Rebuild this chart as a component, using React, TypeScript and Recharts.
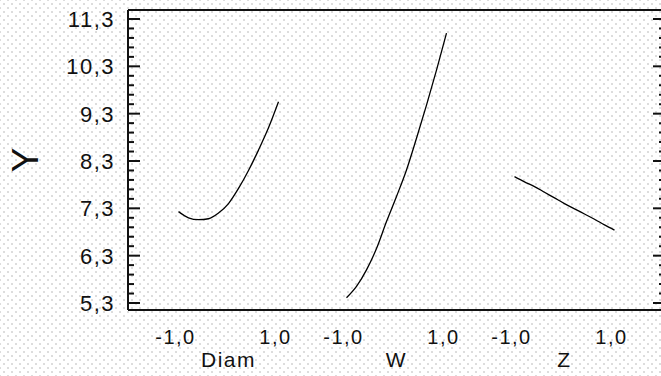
import React from 'react';
import { LineChart, Line, XAxis, YAxis, ReferenceLine } from 'recharts';

// factor names and where each panel sits on the shared x scale
const factors = ['Diam', 'W', 'Z'];
const panelCenters = [0, 3.36, 6.72];

// coded levels
const levels = [-1, -0.8, -0.6, -0.4, -0.2, 0, 0.2, 0.4, 0.6, 0.8, 1];
const diamY = [7.23, 7.1, 7.06, 7.08, 7.2, 7.4, 7.72, 8.1, 8.53, 9.0, 9.55];
const wY = [5.41, 5.65, 6.0, 6.45, 7.02, 7.55, 8.11, 8.78, 9.48, 10.22, 11.0];
const zY = [7.97, 7.86, 7.76, 7.64, 7.52, 7.4, 7.29, 7.18, 7.07, 6.95, 6.84];

const yMajor = [5.3, 6.3, 7.3, 8.3, 9.3, 10.3, 11.3];
const levelLabels = ['-1,0', '1,0'];

const X_DOMAIN = [-2.01, 8.73];
const Y_DOMAIN = [5.152, 11.49];

const FONT = '"Liberation Sans", Arial, sans-serif';
const INK = '#111';

const series = [diamY, wY, zY].map((vals, p) =>
  levels.map((l, i) => ({ x: panelCenters[p] + l, y: vals[i] }))
);

const xTicks = panelCenters.flatMap((c) => [c - 1, c, c + 1]);

// 4 minor ticks between each pair of majors
const yMinor: number[] = [];
yMajor.forEach((m, i) => {
  if (i < yMajor.length - 1) {
    for (let k = 1; k < 5; k++) yMinor.push(Math.round((m + k * 0.2) * 10) / 10);
  }
});
const yTicks = [...yMajor, ...yMinor];
const isMajor = (v: number) => yMajor.some((m) => Math.abs(m - v) < 1e-6);
// tick mark length in x units (about 12px / 6px)
const tickLen = (v: number) => (isMajor(v) ? 0.24 : 0.12);

const LeftTick = (props: any) => {
  const x = Number(props.x);
  const y = Number(props.y);
  const v = Number(props.payload.value);
  return (
    <text x={x - 13} y={y} dy="0.36em" textAnchor="end" fontSize={22} letterSpacing={1.5} fill={INK} fontFamily={FONT}>
      {v.toFixed(1).replace('.', ',')}
    </text>
  );
};

const BottomTick = (props: any) => {
  const x = Number(props.x);
  const y = Number(props.y);
  const v = Number(props.payload.value);
  const p = panelCenters.findIndex((c) => Math.abs(c - v) < 1e-6);
  if (p >= 0) {
    return (
      <text x={x} y={y + 57} textAnchor="middle" fontSize={21} letterSpacing={1.5} fill={INK} fontFamily={FONT}>
        {factors[p]}
      </text>
    );
  }
  const owner = panelCenters.reduce((best, c) => (Math.abs(c - v) < Math.abs(best - v) ? c : best), panelCenters[0]);
  return (
    <text x={x - 3} y={y + 34} textAnchor="middle" fontSize={20} letterSpacing={1.5} fill={INK} fontFamily={FONT}>
      {v < owner ? levelLabels[0] : levelLabels[1]}
    </text>
  );
};

export default function App() {
  return (
    <div
      style={{
        position: 'absolute',
        left: 0,
        top: 0,
        width: 661,
        height: 376,
        overflow: 'hidden',
        backgroundColor: '#fff',
        backgroundImage:
          'radial-gradient(#dcdcdc 0.7px, transparent 1px), radial-gradient(#dcdcdc 0.7px, transparent 1px)',
        backgroundSize: '8px 8px',
        backgroundPosition: '0 0, 4px 4px',
      }}
    >
      <LineChart width={665} height={376} margin={{ top: 10, right: 0, bottom: 0, left: 0 }}>
        <XAxis
          type="number"
          dataKey="x"
          domain={X_DOMAIN}
          allowDataOverflow
          ticks={xTicks}
          interval={0}
          tickSize={0}
          tickMargin={0}
          tickLine={false}
          height={66}
          axisLine={{ stroke: INK, strokeWidth: 2 }}
          tick={<BottomTick />}
        />
        <YAxis
          yAxisId="l"
          type="number"
          domain={Y_DOMAIN}
          allowDataOverflow
          ticks={yMajor}
          interval={0}
          width={128}
          tickSize={0}
          tickMargin={0}
          tickLine={false}
          axisLine={{ stroke: INK, strokeWidth: 2 }}
          tick={<LeftTick />}
          label={{
            value: 'Y',
            angle: -90,
            position: 'insideLeft',
            offset: 25,
            fontSize: 37,
            fill: INK,
            fontFamily: FONT,
            style: { textAnchor: 'middle' },
          }}
        />
        <ReferenceLine yAxisId="l" y={Y_DOMAIN[1]} stroke={INK} strokeWidth={2} ifOverflow="visible" />
        {yTicks.map((v) => (
          <ReferenceLine
            key={`tl-${v}`}
            yAxisId="l"
            segment={[{ x: X_DOMAIN[0], y: v }, { x: X_DOMAIN[0] + tickLen(v), y: v }]}
            stroke={INK}
            strokeWidth={2}
            ifOverflow="visible"
          />
        ))}
        {yTicks.map((v) => (
          <ReferenceLine
            key={`tr-${v}`}
            yAxisId="l"
            segment={[{ x: X_DOMAIN[1] - tickLen(v), y: v }, { x: X_DOMAIN[1], y: v }]}
            stroke={INK}
            strokeWidth={2}
            ifOverflow="visible"
          />
        ))}
        {series.map((d, i) => (
          <Line
            key={factors[i]}
            yAxisId="l"
            data={d}
            dataKey="y"
            type="monotone"
            stroke="#000"
            strokeWidth={1.3}
            dot={false}
            isAnimationActive={false}
          />
        ))}
      </LineChart>
    </div>
  );
}
